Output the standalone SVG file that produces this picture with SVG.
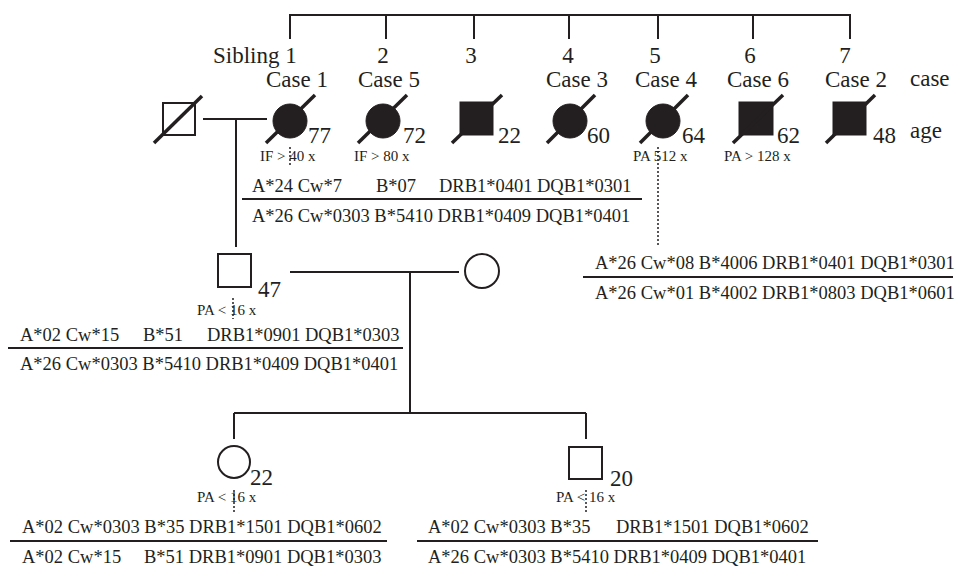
<svg xmlns="http://www.w3.org/2000/svg" width="955" height="567" viewBox="0 0 955 567">
<style>
text{font-family:"Liberation Serif","Times New Roman",serif;fill:#231f20}
.big{font-size:23px}
.sm{font-size:15px}
.hla{font-size:18.5px}
.ln{stroke:#231f20;stroke-width:2;fill:none}
.dot{stroke:#231f20;stroke-width:1.5;stroke-dasharray:2 2;fill:none}
.dg{stroke:#231f20;stroke-width:3.5}
.fill{fill:#231f20;stroke:#231f20;stroke-width:1}
.open{fill:#fff;stroke:#231f20;stroke-width:2}
</style>
<rect width="955" height="567" fill="#fff"/>
<g id="connectors">
<path class="ln" d="M290,39V15H850V39M386,15V39M474,15V39M569,15V39M658,15V39M753,15V39"/>
<path class="ln" d="M203,119H267M236,119V247"/>
<path class="ln" d="M290,272H459M410,272V413M234,413H586M234,413V439M586,413V439"/>
<path class="dot" d="M290,147V167M658,147V247M233,298V319M234,490V512M586,490V512"/>
<path class="ln" d="M242,199H642M8,348H403M583,277H953M10,541H387M417,541H818"/>
</g>
<g id="labels">
<text class="big" x="213" y="63">Sibling 1</text>
<text class="big" x="383" y="63" text-anchor="middle">2</text>
<text class="big" x="471" y="63" text-anchor="middle">3</text>
<text class="big" x="568" y="63" text-anchor="middle">4</text>
<text class="big" x="655" y="63" text-anchor="middle">5</text>
<text class="big" x="750" y="63" text-anchor="middle">6</text>
<text class="big" x="845" y="63" text-anchor="middle">7</text>
<text class="big" x="910" y="86">case</text>
<text class="big" x="910" y="138">age</text>
</g>
<g id="father">
<rect class="open" x="163" y="103" width="32" height="32"/>
<line class="dg" x1="154" y1="143" x2="202" y2="96"/>
</g>
<g id="sibling1">
<text class="big" x="297" y="87" text-anchor="middle">Case 1</text>
<circle class="fill" cx="290" cy="121" r="17"/>
<line class="dg" x1="266" y1="143" x2="315" y2="95"/>
<text class="big" x="308" y="143">77</text>
<text class="sm" x="260" y="161">IF &gt; 40 x</text>
</g>
<g id="sibling2">
<text class="big" x="389" y="87" text-anchor="middle">Case 5</text>
<circle class="fill" cx="383" cy="121" r="17"/>
<line class="dg" x1="358" y1="143" x2="407" y2="95"/>
<text class="big" x="403" y="143">72</text>
<text class="sm" x="354" y="161">IF &gt; 80 x</text>
</g>
<g id="sibling3">
<rect class="fill" x="460" y="102" width="33" height="33"/>
<line class="dg" x1="452" y1="143" x2="502" y2="95"/>
<text class="big" x="498" y="143">22</text>
</g>
<g id="sibling4">
<text class="big" x="577" y="87" text-anchor="middle">Case 3</text>
<circle class="fill" cx="570" cy="121" r="17"/>
<line class="dg" x1="547" y1="143" x2="595" y2="95"/>
<text class="big" x="587" y="143">60</text>
</g>
<g id="sibling5">
<text class="big" x="666" y="87" text-anchor="middle">Case 4</text>
<circle class="fill" cx="663" cy="121" r="17"/>
<line class="dg" x1="640" y1="143" x2="688" y2="95"/>
<text class="big" x="682" y="143">64</text>
<text class="sm" x="633" y="161">PA 512 x</text>
</g>
<g id="sibling6">
<text class="big" x="758" y="87" text-anchor="middle">Case 6</text>
<rect class="fill" x="739" y="102" width="34" height="33"/>
<line class="dg" x1="733" y1="143" x2="783" y2="95"/>
<text class="big" x="777" y="143">62</text>
<text class="sm" x="724" y="161">PA &gt; 128 x</text>
</g>
<g id="sibling7">
<text class="big" x="856" y="87" text-anchor="middle">Case 2</text>
<rect class="fill" x="833" y="102" width="33" height="33"/>
<line class="dg" x1="826" y1="143" x2="875" y2="95"/>
<text class="big" x="873" y="143">48</text>
</g>
<g id="hla-case1">
<text class="hla" x="252" y="192">A*24 Cw*7</text>
<text class="hla" x="376" y="192">B*07</text>
<text class="hla" x="439" y="192">DRB1*0401</text>
<text class="hla" x="537" y="192">DQB1*0301</text>
<text class="hla" x="252" y="222">A*26 Cw*0303 B*5410 DRB1*0409 DQB1*0401</text>
</g>
<g id="hla-case4">
<text class="hla" x="595" y="269">A*26 Cw*08 B*4006 DRB1*0401 DQB1*0301</text>
<text class="hla" x="595" y="299">A*26 Cw*01 B*4002 DRB1*0803 DQB1*0601</text>
</g>
<g id="son47">
<rect class="open" x="218" y="254" width="33" height="33"/>
<text class="big" x="258" y="297">47</text>
<text class="sm" x="197" y="315">PA &lt; 16 x</text>
<text class="hla" x="20" y="341">A*02 Cw*15</text>
<text class="hla" x="143" y="341">B*51</text>
<text class="hla" x="207" y="341">DRB1*0901</text>
<text class="hla" x="305" y="341">DQB1*0303</text>
<text class="hla" x="20" y="370">A*26 Cw*0303 B*5410 DRB1*0409 DQB1*0401</text>
</g>
<g id="wife">
<circle class="open" cx="482" cy="271" r="17"/>
</g>
<g id="daughter22">
<circle class="open" cx="234" cy="462" r="16"/>
<text class="big" x="250" y="485">22</text>
<text class="sm" x="197" y="502">PA &lt; 16 x</text>
<text class="hla" x="22" y="533">A*02 Cw*0303 B*35 DRB1*1501 DQB1*0602</text>
<text class="hla" x="22" y="563">A*02 Cw*15</text>
<text class="hla" x="144" y="563">B*51 DRB1*0901 DQB1*0303</text>
</g>
<g id="son20">
<rect class="open" x="569" y="447" width="33" height="32"/>
<text class="big" x="610" y="486">20</text>
<text class="sm" x="556" y="502">PA &lt; 16 x</text>
<text class="hla" x="428" y="533">A*02 Cw*0303 B*35</text>
<text class="hla" x="616" y="533">DRB1*1501 DQB1*0602</text>
<text class="hla" x="428" y="563">A*26 Cw*0303 B*5410 DRB1*0409 DQB1*0401</text>
</g>
</svg>
